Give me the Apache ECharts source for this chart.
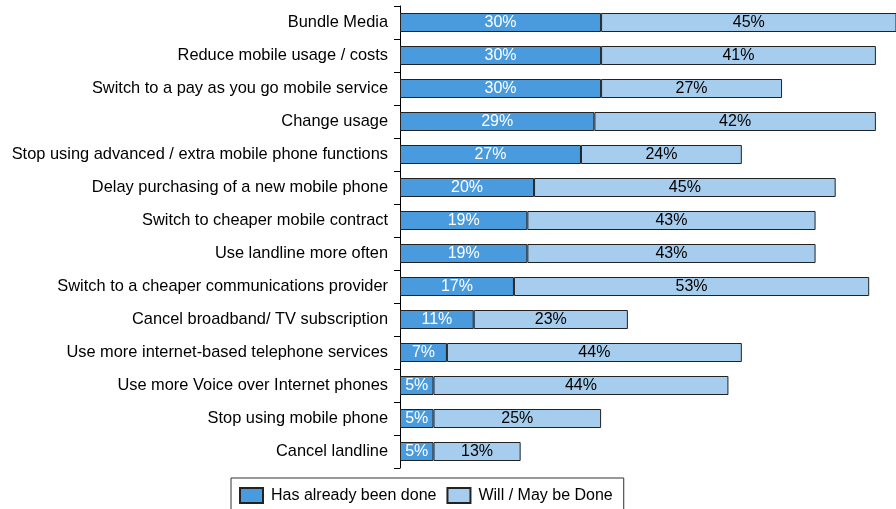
<!DOCTYPE html>
<html>
<head>
<meta charset="utf-8">
<script src="https://cdn.jsdelivr.net/npm/echarts@6/dist/echarts.min.js"></script>
<style>
  html, body { margin: 0; padding: 0; background: #fff; }
  #chart { width: 896px; height: 509px; }
</style>
</head>
<body>
<div id="chart"></div>
<script>
const categories = [
  'Bundle Media',
  'Reduce mobile usage / costs',
  'Switch to a pay as you go mobile service',
  'Change usage',
  'Stop using advanced / extra mobile phone functions',
  'Delay purchasing of a new mobile phone',
  'Switch to cheaper mobile contract',
  'Use landline more often',
  'Switch to a cheaper communications provider',
  'Cancel broadband/ TV subscription',
  'Use more internet-based telephone services',
  'Use more Voice over Internet phones',
  'Stop using mobile phone',
  'Cancel landline'
];
const alreadyDone = [30, 30, 30, 29, 27, 20, 19, 19, 17, 11, 7, 5, 5, 5];
const willMayBeDone = [45, 41, 27, 42, 24, 45, 43, 43, 53, 23, 44, 44, 25, 13];
const seriesNames = ['Has already been done', 'Will / May be Done'];

const FONT = 'Liberation Sans, Arial, sans-serif';

const chart = echarts.init(document.getElementById('chart'), null, { renderer: 'canvas' });
chart.setOption({
  animation: false,
  backgroundColor: '#ffffff',
  textStyle: { fontFamily: FONT },
  grid: { left: 400, top: 6, width: 497, height: 462, containLabel: false },
  xAxis: {
    type: 'value',
    min: 0,
    max: 74,
    show: false
  },
  yAxis: {
    type: 'category',
    data: categories,
    inverse: true,
    axisLine: { show: true, lineStyle: { color: '#000', width: 1 } },
    axisTick: { show: true, length: 6, lineStyle: { color: '#000', width: 1 } },
    axisLabel: { color: '#000', fontSize: 16.4, fontFamily: FONT, margin: 12 },
    splitLine: { show: false }
  },
  legend: {
    data: seriesNames,
    left: 231,
    top: 478,
    orient: 'horizontal',
    icon: 'rect',
    itemWidth: 23,
    itemHeight: 15,
    itemGap: 10,
    padding: [9, 11, 10, 8],
    borderColor: '#333',
    borderWidth: 1,
    backgroundColor: '#fff',
    textStyle: { color: '#000', fontSize: 16, fontFamily: FONT, padding: [0, 0, 0, 3] }
  },
  series: [
    {
      name: seriesNames[0],
      type: 'bar',
      stack: 'total',
      data: alreadyDone,
      barWidth: 19,
      itemStyle: { color: '#4a9bde', borderColor: '#222', borderWidth: 1 },
      label: {
        show: true,
        position: 'inside',
        formatter: '{c}%',
        color: '#fff',
        fontSize: 16,
        fontFamily: FONT
      }
    },
    {
      name: seriesNames[1],
      type: 'bar',
      stack: 'total',
      data: willMayBeDone,
      barWidth: 19,
      itemStyle: { color: '#a7cdee', borderColor: '#222', borderWidth: 1 },
      label: {
        show: true,
        position: 'inside',
        formatter: '{c}%',
        color: '#000',
        fontSize: 16,
        fontFamily: FONT
      }
    }
  ]
});
</script>
</body>
</html>
